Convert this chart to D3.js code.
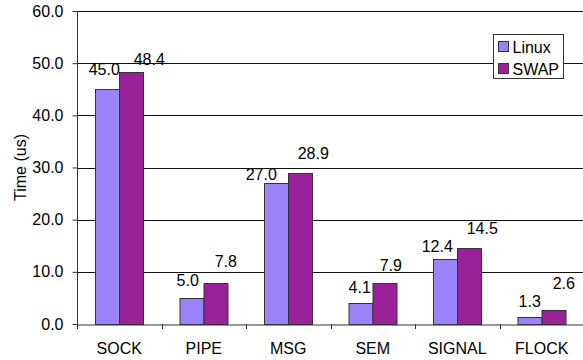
<!DOCTYPE html>
<html>
<head>
<meta charset="utf-8">
<script src="https://cdn.jsdelivr.net/npm/d3@7"></script>
<style>
  html, body { margin: 0; padding: 0; background: #fff; }
  svg { display: block; font-family: "Liberation Sans", Arial, sans-serif; }
</style>
</head>
<body>
<svg id="chart" width="583" height="360"></svg>
<script>
// IPC benchmark: time per operation
const categories = ["SOCK", "PIPE", "MSG", "SEM", "SIGNAL", "FLOCK"];
const seriesNames = ["Linux", "SWAP"];
const linuxValues = [45.0, 5.0, 27.0, 4.1, 12.4, 1.3];
const swapValues = [48.4, 7.8, 28.9, 7.9, 14.5, 2.6];
const yTicks = [0, 10, 20, 30, 40, 50, 60];

// hand-placed value label nudges [dx from bar centre, rise above bar top]
const labelShift = {
  Linux: [[-3, 14], [-4, 12], [-15, 3], [-1, 10], [-8, 7], [0, 10]],
  SWAP: [[18, 7], [10, 16], [13, 14], [6, 12], [13, 14], [10, 21]]
};

const colors = { Linux: "#9b82f9", SWAP: "#9a2299" };
const seriesValues = { Linux: linuxValues, SWAP: swapValues };
const FONT = 16;

const svg = d3.select("#chart");
const margin = { left: 77, top: 11, right: -1, bottom: 36 };
const width = 583 - margin.left - margin.right;
const height = 360 - margin.top - margin.bottom;

const g = svg.append("g").attr("transform", `translate(${margin.left},${margin.top})`);

const x0 = d3.scaleBand().domain(categories).range([0, width]).paddingInner(0).paddingOuter(0);
const x1 = d3.scaleBand().domain(seriesNames).range([0, x0.bandwidth()]).paddingInner(0).paddingOuter(0.76);
const y = d3.scaleLinear().domain([0, 60]).range([height, 0]);

// horizontal gridlines
g.append("g")
  .selectAll("line")
  .data(yTicks.filter(t => t > 0))
  .join("line")
  .attr("x1", 0).attr("x2", width)
  .attr("y1", d => Math.round(y(d)) + 0.5).attr("y2", d => Math.round(y(d)) + 0.5)
  .attr("stroke", "#111").attr("stroke-width", 1);

// bars
const groups = g.append("g")
  .selectAll("g")
  .data(categories)
  .join("g")
  .attr("transform", d => `translate(${x0(d)},0)`);

const cells = (c, i) => seriesNames.map(s => ({ s, i, v: seriesValues[s][i] }));

groups.selectAll("rect")
  .data(cells)
  .join("rect")
  .attr("x", d => Math.round(x1(d.s)) + 0.5)
  .attr("y", d => Math.round(y(d.v)) + 0.5)
  .attr("width", Math.round(x1.bandwidth()))
  .attr("height", d => Math.round(y(0)) - Math.round(y(d.v)))
  .attr("fill", d => colors[d.s])
  .attr("stroke", "#333")
  .attr("stroke-width", 1);

// value labels
groups.selectAll("text")
  .data(cells)
  .join("text")
  .attr("x", d => x1(d.s) + x1.bandwidth() / 2 + labelShift[d.s][d.i][0])
  .attr("y", d => y(d.v) - labelShift[d.s][d.i][1])
  .attr("text-anchor", "middle")
  .attr("font-size", FONT)
  .attr("fill", "#000")
  .text(d => d3.format(".1f")(d.v));

// y axis
const yAxis = g.append("g")
  .attr("transform", "translate(0.5,0)")
  .call(d3.axisLeft(y).tickValues(yTicks).tickFormat(d3.format(".1f")).tickSize(5).tickPadding(9));
yAxis.select(".domain").attr("stroke", "#333").attr("d", `M0,${height + 0.5}V0`);
yAxis.selectAll(".tick line").attr("stroke", "#333");
yAxis.selectAll("text").attr("font-size", FONT).attr("fill", "#000")
  .attr("font-family", "Liberation Sans, Arial, sans-serif");

// x axis
const xAxis = g.append("g")
  .attr("transform", `translate(0,${Math.round(height) + 0.5})`)
  .call(d3.axisBottom(x0).tickSize(0).tickPadding(18));
xAxis.select(".domain").attr("stroke", "#333");
xAxis.selectAll("text").attr("font-size", FONT).attr("fill", "#000")
  .attr("font-family", "Liberation Sans, Arial, sans-serif");
// category separator ticks
g.append("g")
  .selectAll("line")
  .data(categories)
  .join("line")
  .attr("x1", d => Math.round(x0(d)) + 0.5).attr("x2", d => Math.round(x0(d)) + 0.5)
  .attr("y1", Math.round(height)).attr("y2", Math.round(height) + 5)
  .attr("stroke", "#333");

// y axis title
svg.append("text")
  .attr("transform", `translate(26,${margin.top + height / 2}) rotate(-90)`)
  .attr("text-anchor", "middle")
  .attr("font-size", FONT)
  .text("Time (us)");

// legend
const legend = svg.append("g").attr("transform", "translate(493.5,34.5)");
legend.append("rect").attr("width", 70).attr("height", 44)
  .attr("fill", "#fff").attr("stroke", "#333");
seriesNames.forEach((s, i) => {
  legend.append("rect")
    .attr("x", 5).attr("y", 7 + i * 22)
    .attr("width", 10).attr("height", 10)
    .attr("fill", colors[s]).attr("stroke", "#333");
  legend.append("text")
    .attr("x", 19).attr("y", 18 + i * 22)
    .attr("font-size", FONT)
    .text(s);
});
</script>
</body>
</html>
